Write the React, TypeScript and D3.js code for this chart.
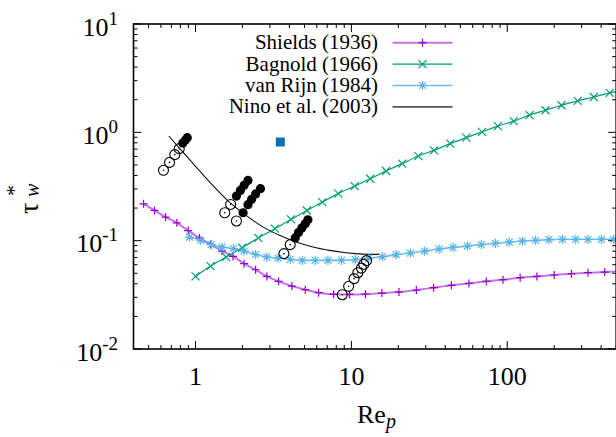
import React from 'react';
import * as d3 from 'd3';

const shieldsX = [0.464,0.546,0.642,0.759,0.897,1.06,1.25,1.48,1.74,2.05,2.43,2.87,3.41,4.15,5.06,6.16,7.69,9.73,12.3,15.7,20.2,26.1,33.7,43.8,56.8,73.4,93.9,121,155,200,258,330,422,500];
const shieldsY = [0.219,0.190,0.165,0.146,0.124,0.106,0.0924,0.0802,0.0716,0.0613,0.0539,0.0468,0.0421,0.0381,0.0353,0.0331,0.0321,0.0319,0.0321,0.0328,0.0335,0.0350,0.0368,0.0387,0.0403,0.0421,0.0436,0.0455,0.0468,0.0482,0.0496,0.0506,0.0513,0.0520];

const bagnoldX = [1.0,1.25,1.57,1.99,2.53,3.23,4.09,5.18,6.50,8.24,10.5,13.2,16.7,21.2,26.9,33.9,43.1,54.6,68.9,87.1,110,139,176,223,283,359,454,500];
const bagnoldY = [0.0468,0.0583,0.0706,0.0861,0.106,0.129,0.157,0.190,0.227,0.272,0.319,0.373,0.440,0.514,0.604,0.682,0.786,0.893,1.01,1.14,1.27,1.44,1.60,1.78,1.95,2.12,2.31,2.38];

const vanRijnX = [0.915,1.08,1.26,1.48,1.75,2.05,2.43,2.87,3.39,4.05,4.84,5.86,7.07,8.65,10.6,12.9,15.8,19.4,23.9,29.5,36.5,44.9,55.5,68.2,83.9,103,125,152,185,226,275,330,402,482,500];
const vanRijnY = [0.108,0.1006,0.0919,0.0873,0.0844,0.0802,0.0747,0.0706,0.0691,0.0672,0.0658,0.0658,0.0658,0.0658,0.0667,0.0691,0.0711,0.0742,0.0769,0.0802,0.0837,0.0867,0.0892,0.0919,0.0944,0.0971,0.0992,0.1006,0.102,0.103,0.103,0.103,0.103,0.103,0.103];

const ninoX = [0.674,0.830,1.01,1.29,1.65,2.11,2.70,3.46,4.43,5.66,7.25,9.27,11.9,15.0];
const ninoY = [0.925,0.658,0.478,0.324,0.227,0.171,0.134,0.112,0.0971,0.0873,0.0813,0.0774,0.0752,0.0747];

const openX = [0.623,0.681,0.736,0.786,1.54,1.68,1.83,3.69,4.05,8.74,9.60,10.4,11.0,11.6,12.0,12.5];
const openY = [0.446,0.528,0.622,0.707,0.181,0.216,0.152,0.0759,0.0919,0.0317,0.0379,0.0446,0.0506,0.0558,0.0604,0.0654];

const filledX = [0.829,0.859,0.885,1.83,1.94,2.05,2.17,2.02,2.17,2.29,2.43,2.61,4.36,4.58,4.81,5.06,5.26];
const filledY = [0.796,0.844,0.893,0.258,0.291,0.324,0.360,0.181,0.215,0.241,0.270,0.302,0.106,0.119,0.131,0.143,0.156];

const squareX = [3.50];
const squareY = [0.814];

const xMajor = [1, 10, 100];
const xMajorLabels = ['1', '10', '100'];
const yMajor = [0.01, 0.1, 1, 10];
const yMajorExp = ['-2', '-1', '0', '1'];

const legendLabels = ['Shields (1936)', 'Bagnold (1966)', 'van Rijn (1984)', 'Nino et al. (2003)'];

const PURPLE = '#9400d3';
const GREEN = '#009e73';
const BLUE = '#56b4e9';

const L = 133.5, R = 616.2, T = 24, B = 349;

export default function App() {
  const x = d3.scaleLog().domain([0.4, 500]).range([L, R]);
  const y = d3.scaleLog().domain([0.01, 10]).range([B, T]);

  const mk = (xs: number[], ys: number[]) => xs.map((v, i) => [x(v), y(ys[i])] as [number, number]);
  const line = d3.line().curve(d3.curveMonotoneX);

  const shields = mk(shieldsX, shieldsY);
  const bagnold = mk(bagnoldX, bagnoldY);
  const vanRijn = mk(vanRijnX, vanRijnY);
  const nino = mk(ninoX, ninoY);

  const xMinor: number[] = [];
  [0.1, 1, 10, 100].forEach(d => { for (let k = 2; k <= 9; k++) { const v = d * k; if (v >= 0.4 && v <= 500) xMinor.push(v); } });
  const yMinor: number[] = [];
  [0.01, 0.1, 1].forEach(d => { for (let k = 2; k <= 9; k++) yMinor.push(d * k); });

  const plus = (cx: number, cy: number, s = 4) => `M${cx - s},${cy}H${cx + s}M${cx},${cy - s}V${cy + s}`;
  const cross = (cx: number, cy: number, s = 4) => `M${cx - s},${cy - s}L${cx + s},${cy + s}M${cx - s},${cy + s}L${cx + s},${cy - s}`;
  const star = (cx: number, cy: number, s = 4.6) => `${plus(cx, cy, s)}${cross(cx, cy, s * 0.75)}`;

  const font = '"Liberation Serif", "Times New Roman", Times, serif';
  const legendRows = [42.7, 64.2, 85.5, 106.8];
  const lx1 = 392.5, lx2 = 452.5, lxm = 422.5;

  return (
    <svg width={616} height={437} style={{ position: 'absolute', left: 0, top: 0, background: '#fff', fontFamily: font }}>
      <defs>
        <clipPath id="plotclip"><rect x={L} y={T} width={R - L} height={B - T} /></clipPath>
      </defs>
      <rect x={0} y={0} width={616} height={437} fill="#fff" />

      <g stroke="#000" strokeWidth={1}>
        {xMajor.map(v => (
          <g key={'xm' + v}>
            <line x1={x(v)} x2={x(v)} y1={B} y2={B - 8} />
            <line x1={x(v)} x2={x(v)} y1={T} y2={T + 8} />
          </g>
        ))}
        {xMinor.map(v => (
          <g key={'xn' + v}>
            <line x1={x(v)} x2={x(v)} y1={B} y2={B - 4} />
            <line x1={x(v)} x2={x(v)} y1={T} y2={T + 4} />
          </g>
        ))}
        {yMajor.map(v => (
          <g key={'ym' + v}>
            <line x1={L} x2={L + 8} y1={y(v)} y2={y(v)} />
            <line x1={R} x2={R - 8} y1={y(v)} y2={y(v)} />
          </g>
        ))}
        {yMinor.map(v => (
          <g key={'yn' + v}>
            <line x1={L} x2={L + 4} y1={y(v)} y2={y(v)} />
            <line x1={R} x2={R - 4} y1={y(v)} y2={y(v)} />
          </g>
        ))}
      </g>

      <g fontSize={26} fill="#000" style={{ fontFamily: font }}>
        {xMajor.map((v, i) => (
          <text key={'xl' + v} x={x(v)} y={385} textAnchor="middle">{xMajorLabels[i]}</text>
        ))}
        {yMajor.map((v, i) => (
          <text key={'yl' + v} x={118} y={y(v) + 11.5} textAnchor="end">10<tspan dy={-11} fontSize={19}>{yMajorExp[i]}</tspan></text>
        ))}
      </g>

      <text x={357} y={423} fontSize={26} style={{ fontFamily: font }}>Re<tspan dy={5} fontSize={20} fontStyle="italic">p</tspan></text>
      <g transform="translate(38,214) rotate(-90)" style={{ fontFamily: font }}>
        <text x={0} y={0} fontSize={28}>τ</text>
        <text x={17} y={1} fontSize={20} fontStyle="italic">w</text>
        <text x={18} y={-17} fontSize={22}>*</text>
      </g>

      <g clipPath="url(#plotclip)" fill="none">
        <path d={line(shields) || ''} stroke={PURPLE} strokeOpacity={0.55} strokeWidth={2} />
        <path d={line(bagnold) || ''} stroke={GREEN} strokeWidth={1.2} />
        <path d={line(vanRijn) || ''} stroke={BLUE} strokeOpacity={0.85} strokeWidth={1.6} />
        <path d={line(nino) || ''} stroke="#111" strokeWidth={1.1} />

        {shields.slice(0, -1).map((p, i) => <path key={'sp' + i} d={plus(p[0], p[1])} stroke={PURPLE} strokeWidth={1.2} />)}
        {bagnold.slice(0, -1).map((p, i) => <path key={'bp' + i} d={cross(p[0], p[1])} stroke={GREEN} strokeWidth={1.2} />)}
        {vanRijn.slice(0, -1).map((p, i) => <path key={'vp' + i} d={star(p[0], p[1])} stroke={BLUE} strokeWidth={1.2} />)}

        {openX.map((v, i) => (
          <g key={'o' + i}>
            <circle cx={x(v)} cy={y(openY[i])} r={5} stroke="#000" strokeWidth={1.1} fill="none" />
            <circle cx={x(v)} cy={y(openY[i])} r={0.8} fill="#000" />
          </g>
        ))}
        {filledX.map((v, i) => (
          <circle key={'f' + i} cx={x(v)} cy={y(filledY[i])} r={4.6} fill="#000" />
        ))}
        {squareX.map((v, i) => (
          <rect key={'sq' + i} x={x(v) - 4.5} y={y(squareY[i]) - 4.5} width={9} height={9} fill="#0072b2" />
        ))}
      </g>

      <g fontSize={21} fill="#000" style={{ fontFamily: font }}>
        {legendLabels.map((s, i) => (
          <text key={'lg' + i} x={378} y={legendRows[i] + 6.5} textAnchor="end">{s}</text>
        ))}
      </g>
      <g fill="none">
        <line x1={lx1} x2={lx2} y1={legendRows[0]} y2={legendRows[0]} stroke={PURPLE} strokeOpacity={0.55} strokeWidth={2} />
        <path d={plus(lxm, legendRows[0])} stroke={PURPLE} strokeWidth={1.2} />
        <line x1={lx1} x2={lx2} y1={legendRows[1]} y2={legendRows[1]} stroke={GREEN} strokeWidth={1.2} />
        <path d={cross(lxm, legendRows[1])} stroke={GREEN} strokeWidth={1.2} />
        <line x1={lx1} x2={lx2} y1={legendRows[2]} y2={legendRows[2]} stroke={BLUE} strokeOpacity={0.85} strokeWidth={1.6} />
        <path d={star(lxm, legendRows[2])} stroke={BLUE} strokeWidth={1.2} />
        <line x1={lx1} x2={lx2} y1={legendRows[3]} y2={legendRows[3]} stroke="#555" strokeWidth={1.8} />
      </g>

      <rect x={L} y={T} width={R - L} height={B - T} fill="none" stroke="#000" strokeWidth={1.6} />
    </svg>
  );
}
